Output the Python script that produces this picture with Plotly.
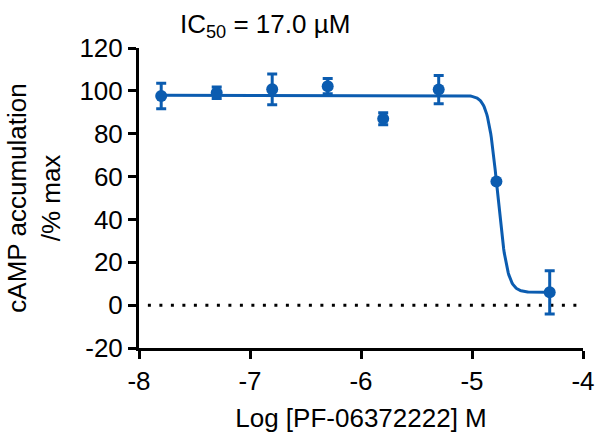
import numpy as np
import plotly.graph_objects as go

# Measured responses (mean ± SD)
log_conc = [-7.8, -7.3, -6.8, -6.3, -5.8, -5.3, -4.78, -4.3]
response = [97.6, 99.1, 100.7, 102.2, 87.0, 100.6, 57.7, 6.0]
error = [5.9, 2.7, 7.2, 3.6, 2.8, 6.6, 0.0, 10.1]

# Four-parameter logistic fit parameters
fit_top = 97.9
fit_bottom = 6.0
fit_log_ic50 = np.log10(17.0e-6)
fit_hill = 10.0

x_ticks = [-8, -7, -6, -5, -4]
x_tick_text = ["-8", "-7", "-6", "-5", "-4"]
y_ticks = [-20, 0, 20, 40, 60, 80, 100, 120]
y_tick_text = ["-20", "0", "20", "40", "60", "80", "100", "120"]

BLUE = "#0B5CB0"
FONT = "Arial, Liberation Sans, sans-serif"

xf = np.linspace(min(log_conc), max(log_conc), 600)
yf = fit_bottom + (fit_top - fit_bottom) / (1 + 10 ** ((xf - fit_log_ic50) * fit_hill))

fig = go.Figure()

# Baseline at zero
fig.add_trace(go.Scatter(
    x=[-7.92, -4], y=[0, 0], mode="lines",
    line=dict(color="black", width=3, dash="3px,8.5px"),
    hoverinfo="skip", showlegend=False,
))

# Fitted curve
fig.add_trace(go.Scatter(
    x=xf, y=yf, mode="lines",
    line=dict(color=BLUE, width=3),
    showlegend=False,
))

# Data points with error bars
fig.add_trace(go.Scatter(
    x=log_conc, y=response, mode="markers",
    marker=dict(color=BLUE, size=12),
    error_y=dict(type="data", array=error, visible=True,
                 color=BLUE, thickness=3, width=5),
    showlegend=False,
))

fig.add_annotation(
    text="IC<sub>50</sub> = 17.0 µM",
    xref="paper", yref="paper", x=0.283, y=1.0,
    xanchor="center", yanchor="bottom", yshift=4,
    showarrow=False, font=dict(family=FONT, size=26, color="black"),
)

axis_common = dict(
    showgrid=False, zeroline=False,
    showline=True, linecolor="black", linewidth=3,
    ticks="outside", ticklen=8, tickwidth=3, tickcolor="black",
    tickfont=dict(family=FONT, size=26, color="black"),
)

fig.update_xaxes(
    range=[-8, -4], tickvals=x_ticks, ticktext=x_tick_text,
    title=dict(text="Log [PF-06372222] M",
               font=dict(family=FONT, size=26, color="black"), standoff=14),
    **axis_common,
)
fig.update_yaxes(
    range=[-20, 120], tickvals=y_ticks, ticktext=y_tick_text,
    title=dict(text="cAMP accumulation<br>/% max",
               font=dict(family=FONT, size=26, color="black"), standoff=12),
    **axis_common,
)

fig.update_layout(
    width=607, height=440,
    margin=dict(l=139, r=14, t=48, b=90),
    paper_bgcolor="white", plot_bgcolor="white",
    font=dict(family=FONT, color="black"),
)

fig.write_html("out.html")
